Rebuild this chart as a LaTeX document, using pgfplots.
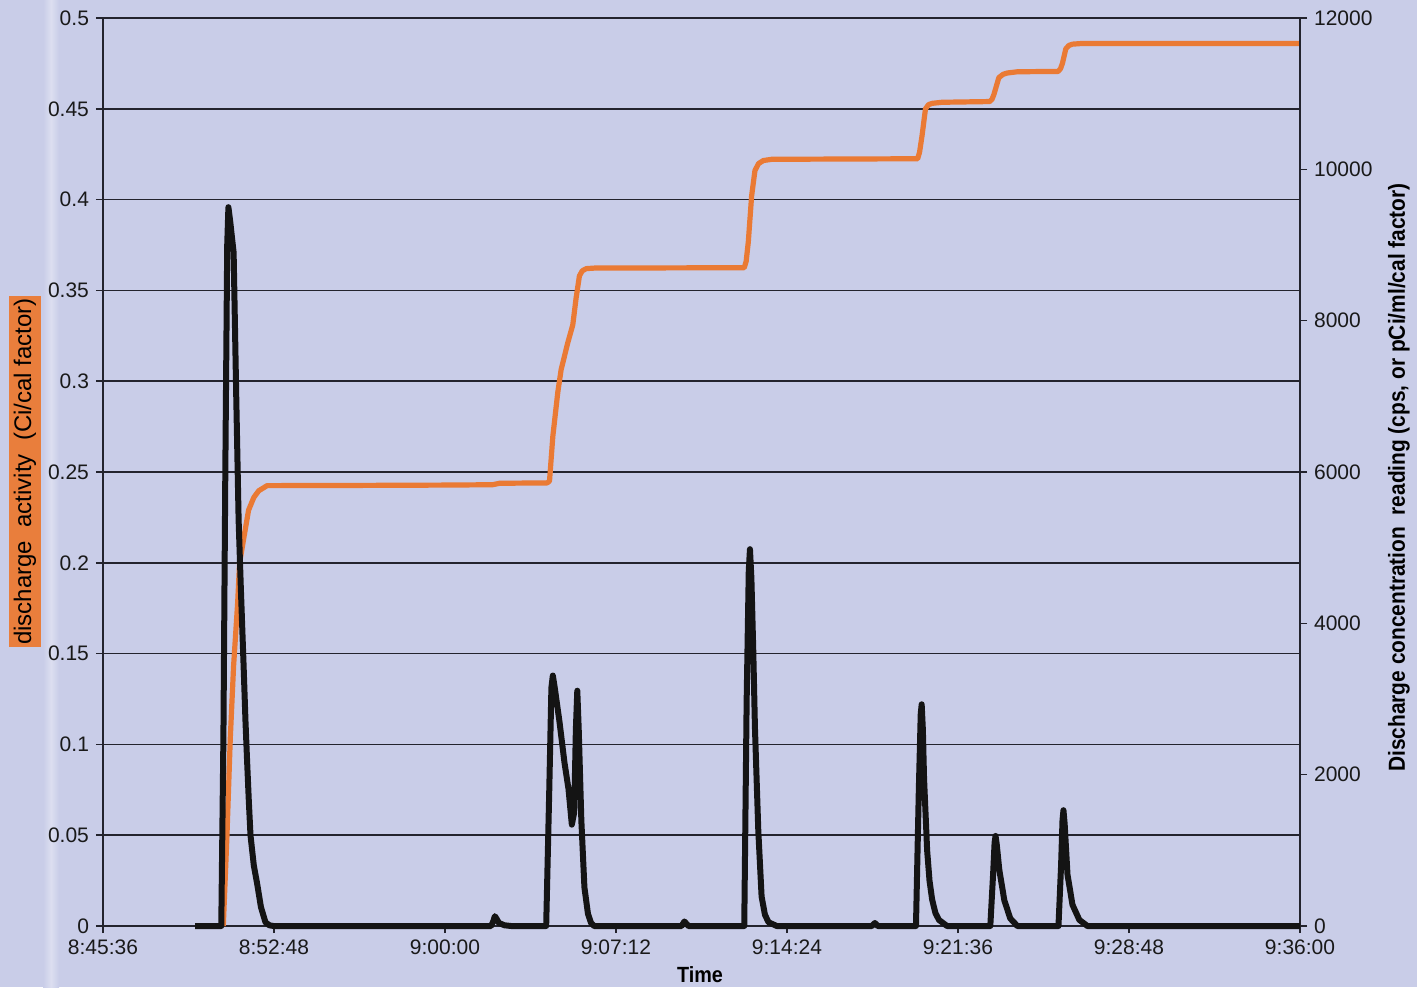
\documentclass[border=0pt]{standalone}
\usepackage{pgfplots}
\usepackage{pgfplotstable}
\pgfplotsset{compat=1.18}
\usepackage{fontspec}
\setmainfont{Liberation Sans}
\newfontfamily\titlefont[FakeStretch=0.9]{Liberation Sans}

\definecolor{panel}{RGB}{201,205,232}
\definecolor{activity}{RGB}{234,122,52}
\definecolor{labelbox}{RGB}{233,126,60}
\definecolor{rule}{RGB}{35,35,45}

% cumulative discharge activity (Ci/cal factor); time in minutes after 8:00:00
\pgfplotstableread{
t act
50.665 0
50.82 0.050
50.96 0.1035
51.10 0.1435
51.27 0.178
51.35 0.1996
51.52 0.213
51.73 0.229
51.95 0.2360
52.16 0.2397
52.51 0.2425
56.00 0.2426
60.00 0.2428
62.00 0.2430
62.30 0.2438
64.30 0.2440
64.40 0.2450
64.54 0.2696
64.75 0.2940
64.89 0.3064
65.17 0.3212
65.38 0.3310
65.52 0.3458
65.66 0.3580
65.78 0.3608
65.95 0.3620
66.30 0.3623
72.60 0.3625
72.68 0.3660
72.77 0.3766
72.91 0.4020
73.05 0.4160
73.20 0.4198
73.40 0.4215
73.76 0.4222
79.90 0.4225
79.98 0.4260
80.09 0.4356
80.23 0.4500
80.36 0.4523
80.51 0.4530
80.93 0.4536
82.93 0.4540
83.03 0.4552
83.11 0.4578
83.32 0.4672
83.50 0.4690
83.67 0.4697
84.10 0.4704
85.82 0.4706
85.92 0.4722
86.00 0.4752
86.14 0.4831
86.27 0.4849
86.42 0.4856
86.84 0.4860
96.00 0.4860
}\activitydata

% discharge concentration reading (cps, or pCi/ml/cal factor)
\pgfplotstableread{
t conc
49.48 0
50.58 0
50.67 2500
50.75 6000
50.83 9000
50.88 9500
50.96 9300
51.10 8900
51.21 7000
51.31 5370
51.40 4500
51.52 3440
51.60 2700
51.67 2160
51.74 1650
51.81 1200
51.95 800
52.09 560
52.25 250
52.44 50
52.60 10
52.78 0
61.94 0
62.03 60
62.10 130
62.18 90
62.27 40
62.50 10
62.78 0
64.26 0
64.39 1800
64.48 3150
64.54 3310
64.62 3150
64.82 2700
65.03 2160
65.20 1810
65.34 1340
65.44 1500
65.51 2600
65.57 3110
65.63 2600
65.74 1400
65.87 510
66.02 160
66.15 40
66.28 0
69.96 0
70.08 60
70.25 0
72.60 0
72.70 2960
72.79 4700
72.84 4980
72.90 4600
72.98 3630
73.05 2620
73.19 1270
73.33 390
73.47 150
73.62 50
73.97 0
77.97 0
78.10 40
78.22 0
79.83 0
79.95 1800
80.03 2800
80.07 2930
80.12 2600
80.17 1950
80.30 1000
80.40 600
80.51 350
80.65 170
80.80 80
81.14 0
82.96 0
83.08 700
83.14 1100
83.18 1190
83.23 1080
83.34 740
83.55 340
83.80 100
84.10 0
85.83 0
85.94 800
86.00 1400
86.04 1530
86.09 1350
86.21 680
86.42 280
86.71 80
87.05 0
96.00 0
}\concdata

\pgfplotsset{
  common/.style={
    at={(0,0)}, anchor=south west,
    scale only axis, width=598.5pt, height=454pt,
    xmin=45.6, xmax=96,
    axis line style={-, rule, line width=0.9pt},
    tick align=outside, major tick length=3.5pt,
    tick style={rule, line width=0.8pt},
    tick label style={font=\fontsize{10.5}{12}\selectfont, text=black!90},
    clip=false,
  }
}

\begin{document}
\begin{tikzpicture}[x=1pt,y=1pt]
\fill[panel] (-51.5,-30.5) rectangle (657,463);
\shade[left color=panel, right color=panel, middle color=white!35!panel] (-30,-30.5) rectangle (-22,463);

\begin{axis}[
  common,
  ymin=0, ymax=0.5,
  axis x line*=bottom, axis y line*=left,
  xtick={45.6,52.8,60,67.2,74.4,81.6,88.8,96},
  xticklabels={8:45:36,8:52:48,9:00:00,9:07:12,9:14:24,9:21:36,9:28:48,9:36:00},
  ytick={0,0.05,0.1,0.15,0.2,0.25,0.3,0.35,0.4,0.45,0.5},
  yticklabels={0,0.05,0.1,0.15,0.2,0.25,0.3,0.35,0.4,0.45,0.5},
  ymajorgrids, major grid style={rule, line width=0.8pt},
]
\addplot[activity, line width=2.6pt, line join=round] table[x=t, y=act] {\activitydata};
\end{axis}

\begin{axis}[
  common,
  ymin=0, ymax=12000,
  axis x line=none, axis y line*=right,
  xtick=\empty,
  ytick={0,2000,4000,6000,8000,10000,12000},
  yticklabels={0,2000,4000,6000,8000,10000,12000},
]
\addplot[black!92, line width=3pt, line join=round] table[x=t, y=conc] {\concdata};
\end{axis}

\node[rotate=90, fill=labelbox, minimum width=175.5pt, minimum height=16pt, inner sep=0pt,
      font=\fontsize{12}{14}\selectfont] at (-39,227.25) {discharge\ \ activity\ \ (Ci/cal factor)};
\node[rotate=90, font=\titlefont\bfseries\fontsize{11.6}{14}\selectfont] at (648,224.25)
      {Discharge concentration\ \ reading (cps, or pCi/ml/cal factor)};
\node[font=\titlefont\bfseries\fontsize{11}{13}\selectfont] at (298.5,-24.5) {Time};

\pgfresetboundingbox
\path (-51.5,-30.5) rectangle (657,463);
\end{tikzpicture}
\end{document}
